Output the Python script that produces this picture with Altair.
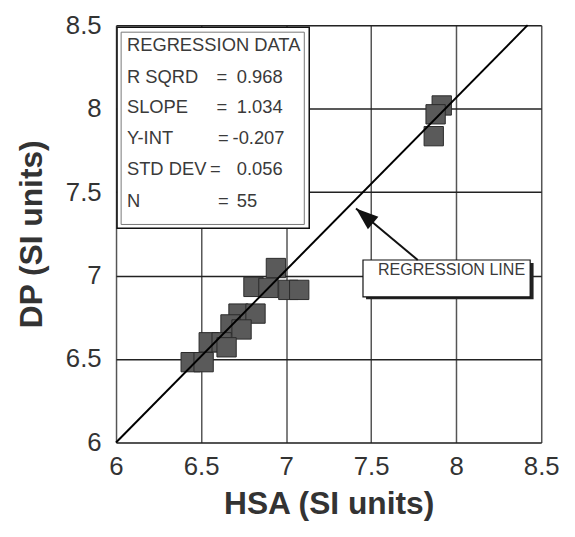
import altair as alt
import pandas as pd

# Scatter data (HSA vs DP) (overlapping squares)
hsa = [6.940, 7.013, 7.077, 6.808, 6.896, 6.720, 6.820, 6.673, 6.738,
       6.545, 6.621, 6.439, 6.515, 6.650, 7.915, 7.879, 7.868]
dp = [7.045, 6.914, 6.914, 6.932, 6.926, 6.772, 6.772, 6.707, 6.677,
      6.600, 6.600, 6.481, 6.481, 6.570, 8.019, 7.966, 7.835]

# Regression line end points
line_x = [6.0, 8.42]
line_y = [6.0, 8.5]

# Regression data box
stat_labels = ["REGRESSION DATA", "R SQRD", "SLOPE", "Y-INT", "STD DEV", "N"]
stat_values = ["", "0.968", "1.034", "-0.207", "0.056", "55"]
stat_eq = ["", "=", "=", "=", "=", "="]
row_y = [8.381, 8.191, 8.007, 7.823, 7.639, 7.449]
eq_x = [6.59, 6.59, 6.59, 6.60, 6.553, 6.60]
val_x = [6.71, 6.71, 6.71, 6.685, 6.71, 6.71]
label_x = 6.064

# Annotation frames (data coordinates)
box_x = [6.006, 6.03]
box_x2 = [7.136, 7.107]
box_y = [8.488, 8.458]
box_y2 = [7.283, 7.306]

rl_text = "REGRESSION LINE"
rl_box = dict(x=7.452, x2=8.435, y=7.093, y2=6.872)
rl_shadow = dict(x=7.47, x2=8.455, y=7.075, y2=6.858)
arrow_start = (7.774, 7.093)
arrow_tip = (7.411, 7.401)

FONT = "Liberation Sans"
xs = alt.Scale(domain=[6, 8.5], nice=False, zero=False)
ys = alt.Scale(domain=[6, 8.5], nice=False, zero=False)
ticks = [6, 6.5, 7, 7.5, 8, 8.5]

xaxis = alt.Axis(values=ticks, format="~g", title="HSA (SI units)", grid=True,
                 gridColor="#555555", gridWidth=1.5, ticks=False, domain=False,
                 labelFont=FONT, labelFontSize=26, labelColor="#333333",
                 labelFlush=False, labelPadding=11, titleFont=FONT, titleFontSize=32,
                 titleFontWeight="bold", titleColor="#333333", titlePadding=10)
yaxis = alt.Axis(values=ticks, format="~g", title="DP (SI units)", grid=True,
                 gridColor="#222222", gridWidth=1.5, ticks=False, domain=False,
                 labelFont=FONT, labelFontSize=26, labelColor="#333333",
                 labelFlush=False, labelPadding=15, titleFont=FONT, titleFontSize=32,
                 titleFontWeight="bold", titleColor="#333333", titlePadding=17)


def X(f):
    return alt.X(f, type="quantitative", scale=xs, axis=xaxis)


def Y(f):
    return alt.Y(f, type="quantitative", scale=ys, axis=yaxis)


pts = pd.DataFrame({"x": hsa, "y": dp})
points = alt.Chart(pts).mark_square(size=380, color="#5a5a5a", stroke="#2a2a2a",
                                    strokeWidth=1, opacity=1).encode(x=X("x"), y=Y("y"))

reg = alt.Chart(pd.DataFrame({"x": line_x, "y": line_y})).mark_line(
    color="black", strokeWidth=2).encode(x=X("x"), y=Y("y"))

boxes_df = pd.DataFrame({"x": box_x, "x2": box_x2, "y": box_y, "y2": box_y2,
                         "c": ["#111111", "#777777"], "w": [1.5, 1.0]})
boxes = alt.Chart(boxes_df).mark_rect(fill="white").encode(
    x=X("x"), x2="x2", y=Y("y"), y2="y2",
    stroke=alt.Stroke("c:N", scale=None), strokeWidth=alt.StrokeWidth("w:Q", scale=None))

TS = 18.5
lab_df = pd.DataFrame({"x": [label_x] * len(stat_labels), "y": row_y, "t": stat_labels})
labels = alt.Chart(lab_df).mark_text(align="left", baseline="middle", font=FONT,
                                      fontSize=TS, color="#3a3a3a").encode(
    x=X("x"), y=Y("y"), text="t:N")
eq_df = pd.DataFrame({"x": eq_x, "y": row_y, "t": stat_eq})
eqs = alt.Chart(eq_df).mark_text(align="left", baseline="middle", font=FONT,
                                  fontSize=TS, color="#3a3a3a").encode(
    x=X("x"), y=Y("y"), text="t:N")
val_df = pd.DataFrame({"x": val_x, "y": row_y, "t": stat_values})
vals = alt.Chart(val_df).mark_text(align="left", baseline="middle", font=FONT,
                                    fontSize=TS, color="#3a3a3a").encode(
    x=X("x"), y=Y("y"), text="t:N")

shadow = alt.Chart(pd.DataFrame([rl_shadow])).mark_rect(fill="#222222").encode(
    x=X("x"), x2="x2", y=Y("y"), y2="y2")
rlbox = alt.Chart(pd.DataFrame([rl_box])).mark_rect(
    fill="white", stroke="#111111", strokeWidth=1.2).encode(
    x=X("x"), x2="x2", y=Y("y"), y2="y2")
rltext = alt.Chart(pd.DataFrame({"x": [7.54], "y": [7.033], "t": [rl_text]})).mark_text(
    align="left", baseline="middle", font=FONT, fontSize=16.2, color="#3a3a3a").encode(
    x=X("x"), y=Y("y"), text="t:N")

arrow_df = pd.DataFrame({"x": [arrow_start[0], arrow_tip[0]],
                         "y": [arrow_start[1], arrow_tip[1]]})
arrow_line = alt.Chart(arrow_df).mark_line(color="#111111", strokeWidth=2).encode(
    x=X("x"), y=Y("y"))
arrow_head = alt.Chart(pd.DataFrame({"x": [arrow_tip[0]], "y": [arrow_tip[1]]})).mark_point(
    shape="M0,0L0.8,2.2L-0.8,2.2Z", filled=True, color="#111111", opacity=1,
    size=420, angle=310).encode(x=X("x"), y=Y("y"))

chart = alt.layer(points, reg, boxes, labels, eqs, vals, shadow, rlbox, rltext,
                  arrow_line, arrow_head).properties(
    width=429, height=421,
    autosize=alt.AutoSizeParams(type="none"),
    padding={"left": 109, "top": 15, "right": 26, "bottom": 85},
).configure_view(stroke="black", strokeWidth=2.5).configure(background="white")

chart.save("out.html", embed_options={"renderer": "svg", "actions": False})
